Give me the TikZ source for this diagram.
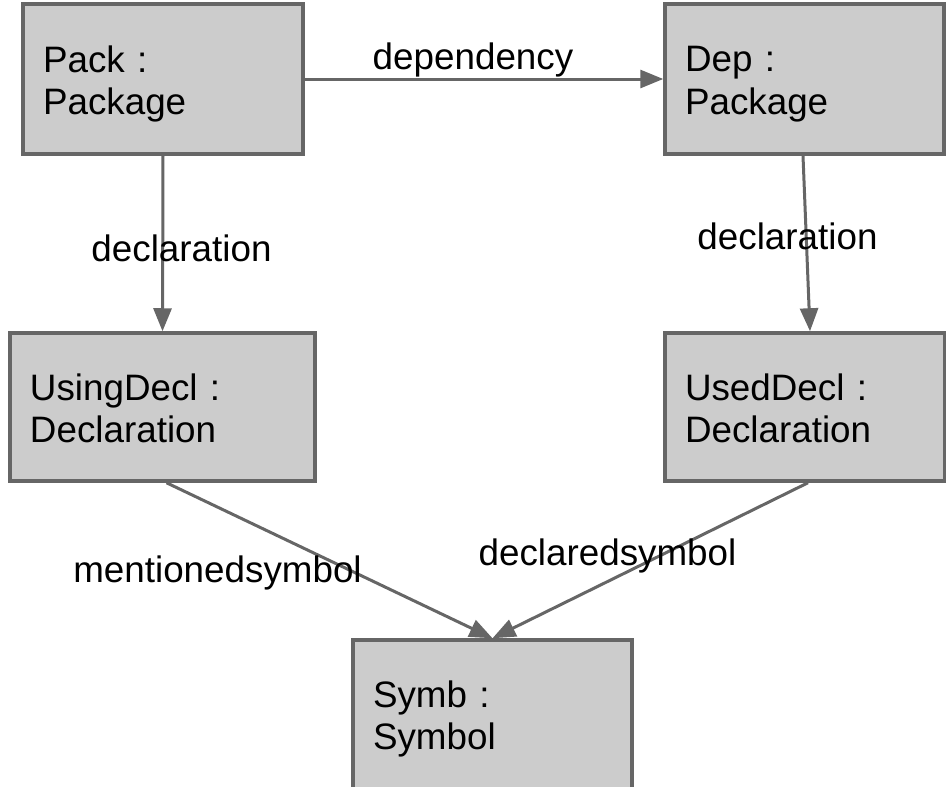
\documentclass[tikz,border=0pt]{standalone}
\usepackage{fontspec}
\setmainfont{Liberation Sans}
\usetikzlibrary{arrows.meta}
\definecolor{edgegray}{HTML}{666666}
\definecolor{boxgray}{HTML}{CCCCCC}
\begin{document}
\begin{tikzpicture}[x=1pt,y=-1pt,
  every node/.style={font=\fontsize{36.8}{42.5}\selectfont},
  obj/.style={draw=edgegray, fill=boxgray, line width=3.5pt, rectangle,
    inner xsep=20pt, inner ysep=0pt, align=left, text depth=40pt},
  lbl/.style={anchor=base, inner sep=0pt},
  conn/.style={draw=edgegray, line width=3pt, -{Triangle[length=23pt,width=18pt]}}]
\useasboundingbox (0,0) rectangle (946,787);

\node[obj, minimum width=280pt, minimum height=150pt, text width=240pt] (pack) at (163,79) {Pack :\\Package};
\node[obj, minimum width=279pt, minimum height=150pt, text width=239pt] (dep) at (804.5,79) {Dep :\\Package};
\node[obj, minimum width=305pt, minimum height=148pt, text width=265pt] (using) at (162.5,407) {UsingDecl :\\Declaration};
\node[obj, minimum width=280pt, minimum height=148pt, text width=240pt] (used) at (805,407) {UsedDecl :\\Declaration};
\node[obj, minimum width=279pt, minimum height=160pt, text width=239pt, text depth=52pt] (symb) at (492.5,720) {Symb :\\Symbol};

\draw[conn] (pack.east) -- (dep.west);
\draw[conn] (pack.south) -- (using.north);
\draw[conn] ([xshift=-1.5pt]dep.south) -- ([xshift=5pt]used.north);
\draw[conn] ([xshift=4pt]using.south) -- (symb.north);
\draw[conn] ([xshift=3pt]used.south) -- (symb.north);

\node[lbl] (ldep) at (473,69) {dependency};
\node[lbl] (ldecl1) at (181.5,261) {declaration};
\node[lbl] (ldecl2) at (787.5,249) {declaration};
\node[lbl] (lment) at (217.5,582) {mentionedsymbol};
\node[lbl] (ldecs) at (607.5,565) {declaredsymbol};
\end{tikzpicture}
\end{document}
